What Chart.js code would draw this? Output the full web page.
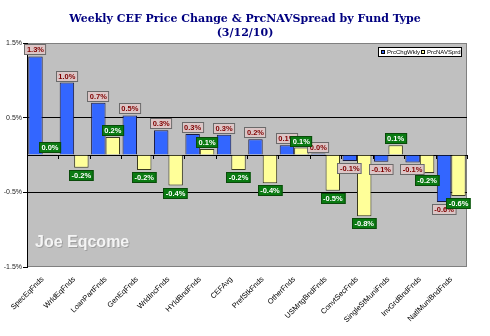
<!DOCTYPE html>
<html>
<head>
<meta charset="utf-8">
<script src="https://cdn.jsdelivr.net/npm/chart.js@4.4.1/dist/chart.umd.min.js"></script>
<style>
  html, body { margin: 0; padding: 0; background: #fff; }
  #wrap { width: 490px; height: 336px; }
</style>
</head>
<body>
<div id="wrap"><canvas id="chart" width="490" height="336"></canvas></div>
<script>
const fundTypes = ['SpecEqFnds', 'WrldEqFnds', 'LoanPartFnds', 'GenEqFnds', 'WrldIncFnds', 'HYldBndFnds', 'CEFAvg',
    'PrefStkFnds', 'OtherFnds', 'USMrtgBndFnds', 'ConvtSecFnds', 'SingleStMuniFnds', 'InvGrdBndFnds', 'NatlMuniBndFnds'];
const prcChgWkly = [1.32, 0.97, 0.70, 0.53, 0.33, 0.28, 0.27, 0.21, 0.13, 0.02, -0.08, -0.09, -0.10, -0.63];
const prcNAVSprd = [0.01, -0.17, 0.24, -0.20, -0.41, 0.08, -0.20, -0.38, 0.10, -0.48, -0.82, 0.13, -0.24, -0.55];
const yTicks = [-1.5, -0.5, 0, 0.5, 1.5];

const titleLines = ['Weekly CEF Price Change & PrcNAVSpread by Fund Type', '(3/12/10)'];

// background, plot area, watermark, title
const decor = {
    id: 'decor',
    beforeDraw(chart) {
        const c = chart.ctx, a = chart.chartArea;
        c.save();
        c.fillStyle = '#fff';
        c.fillRect(0, 0, chart.width, chart.height);
        c.fillStyle = '#c0c0c0';
        c.fillRect(a.left, a.top, a.right - a.left, a.bottom - a.top);
        c.strokeStyle = '#808080';
        c.lineWidth = 1;
        c.strokeRect(a.left + 0.5, a.top + 0.5, a.right - a.left - 1, a.bottom - a.top - 1);

        c.font = 'bold 16px "Liberation Sans", Arial, sans-serif';
        c.textBaseline = 'middle';
        c.fillStyle = 'rgba(150,150,150,0.8)';
        c.fillText('Joe Eqcome', 36, 244);
        c.fillStyle = '#f4f4f4';
        c.fillText('Joe Eqcome', 35, 243);

        c.fillStyle = '#000080';
        c.textAlign = 'center';
        c.font = 'bold 11px "DejaVu Serif", serif';
        c.fillText(titleLines[0], 245, 19);
        c.fillText(titleLines[1], 245, 33);
        c.restore();
    },
    afterDatasetsDraw(chart) {
        const c = chart.ctx, a = chart.chartArea;
        const y0 = chart.scales.y.getPixelForValue(0);
        c.save();
        // category ticks on the zero line
        c.strokeStyle = '#000';
        c.lineWidth = 1;
        c.beginPath();
        const step = (a.right - a.left) / fundTypes.length;
        for (let i = 0; i <= fundTypes.length; i++) {
            const x = Math.round(a.left + i * step) + 0.5;
            c.moveTo(x, y0);
            c.lineTo(x, y0 + 4);
        }
        c.stroke();

        // data labels
        c.font = 'bold 7.5px "Liberation Sans", Arial, sans-serif';
        c.textAlign = 'center';
        c.textBaseline = 'middle';
        chart.data.datasets.forEach((ds, di) => {
            const meta = chart.getDatasetMeta(di);
            meta.data.forEach((el, i) => {
                const v = ds.data[i];
                const txt = v.toFixed(1) + '%';
                const w = c.measureText(txt).width + 5, h = 11;
                let top = v >= 0 ? el.y - h - 1 : el.y + 2;
                const left = Math.round(el.x - w / 2);
                top = Math.round(top);
                if (di === 0) {
                    c.fillStyle = '#dcc6c6';
                    c.strokeStyle = '#6a6a6a';
                } else {
                    c.fillStyle = '#0a7a12';
                    c.strokeStyle = '#0a4a0a';
                }
                c.fillRect(left, top, w, h);
                c.strokeRect(left + 0.5, top + 0.5, w - 1, h - 1);
                c.fillStyle = di === 0 ? '#800000' : '#fff';
                c.fillText(txt, el.x, top + h / 2 + 0.5);
            });
        });

        // legend box
        const lx = 378, ly = 47, lw = 84, lh = 10;
        c.fillStyle = '#fff';
        c.fillRect(lx, ly, lw, lh);
        c.strokeStyle = '#000';
        c.strokeRect(lx + 0.5, ly + 0.5, lw - 1, lh - 1);
        c.font = '6px "Liberation Sans", Arial, sans-serif';
        c.textAlign = 'left';
        const items = [[chart.data.datasets[0], lx + 3], [chart.data.datasets[1], lx + 43]];
        items.forEach(([ds, x]) => {
            c.fillStyle = ds.backgroundColor;
            c.fillRect(x, ly + 3, 4, 4);
            c.strokeStyle = '#000';
            c.strokeRect(x + 0.5, ly + 3.5, 3, 3);
            c.fillStyle = '#000';
            c.fillText(ds.label, x + 6, ly + lh / 2 + 0.5);
        });
        c.restore();
    }
};

new Chart('chart', {
    type: 'bar',
    data: {
        labels: fundTypes,
        datasets: [
            { label: 'PrcChgWkly', data: prcChgWkly, backgroundColor: '#3366ff', borderColor: '#1a1a40', borderWidth: 1 },
            { label: 'PrcNAVSprd', data: prcNAVSprd, backgroundColor: '#ffff99', borderColor: '#3a3a20', borderWidth: 1 }
        ]
    },
    plugins: [decor],
    options: {
        responsive: false,
        animation: false,
        layout: { padding: { top: 43, right: 23, left: 0, bottom: 0 } },
        datasets: { bar: { categoryPercentage: 0.92, barPercentage: 1.0 } },
        plugins: {
            legend: { display: false },
            title: { display: false },
            tooltip: { enabled: false }
        },
        scales: {
            x: {
                grid: { display: false, drawTicks: false },
                border: { display: false },
                ticks: {
                    minRotation: 45, maxRotation: 45, padding: 8, autoSkip: false,
                    color: '#000',
                    font: { size: 7.5, family: '"Liberation Sans", Arial, sans-serif' }
                },
                afterFit(s) { s.height = 69; }
            },
            y: {
                min: -1.5, max: 1.5,
                afterBuildTicks(s) { s.ticks = yTicks.map(v => ({ value: v })); },
                afterFit(s) { s.width = 27; },
                border: { display: true, color: '#000', width: 1 },
                grid: {
                    color: ctx => (ctx.tick && Math.abs(ctx.tick.value) < 1 ? '#000' : 'rgba(0,0,0,0)'),
                    tickColor: ctx => (ctx.tick && ctx.tick.value !== 0 ? '#000' : 'rgba(0,0,0,0)'),
                    tickLength: 4
                },
                ticks: {
                    padding: 1,
                    color: '#222',
                    font: { size: 7, family: '"Liberation Sans", Arial, sans-serif' },
                    callback: v => (v === 0 ? '' : v.toFixed(1) + '%')
                }
            }
        }
    }
});
</script>
</body>
</html>
